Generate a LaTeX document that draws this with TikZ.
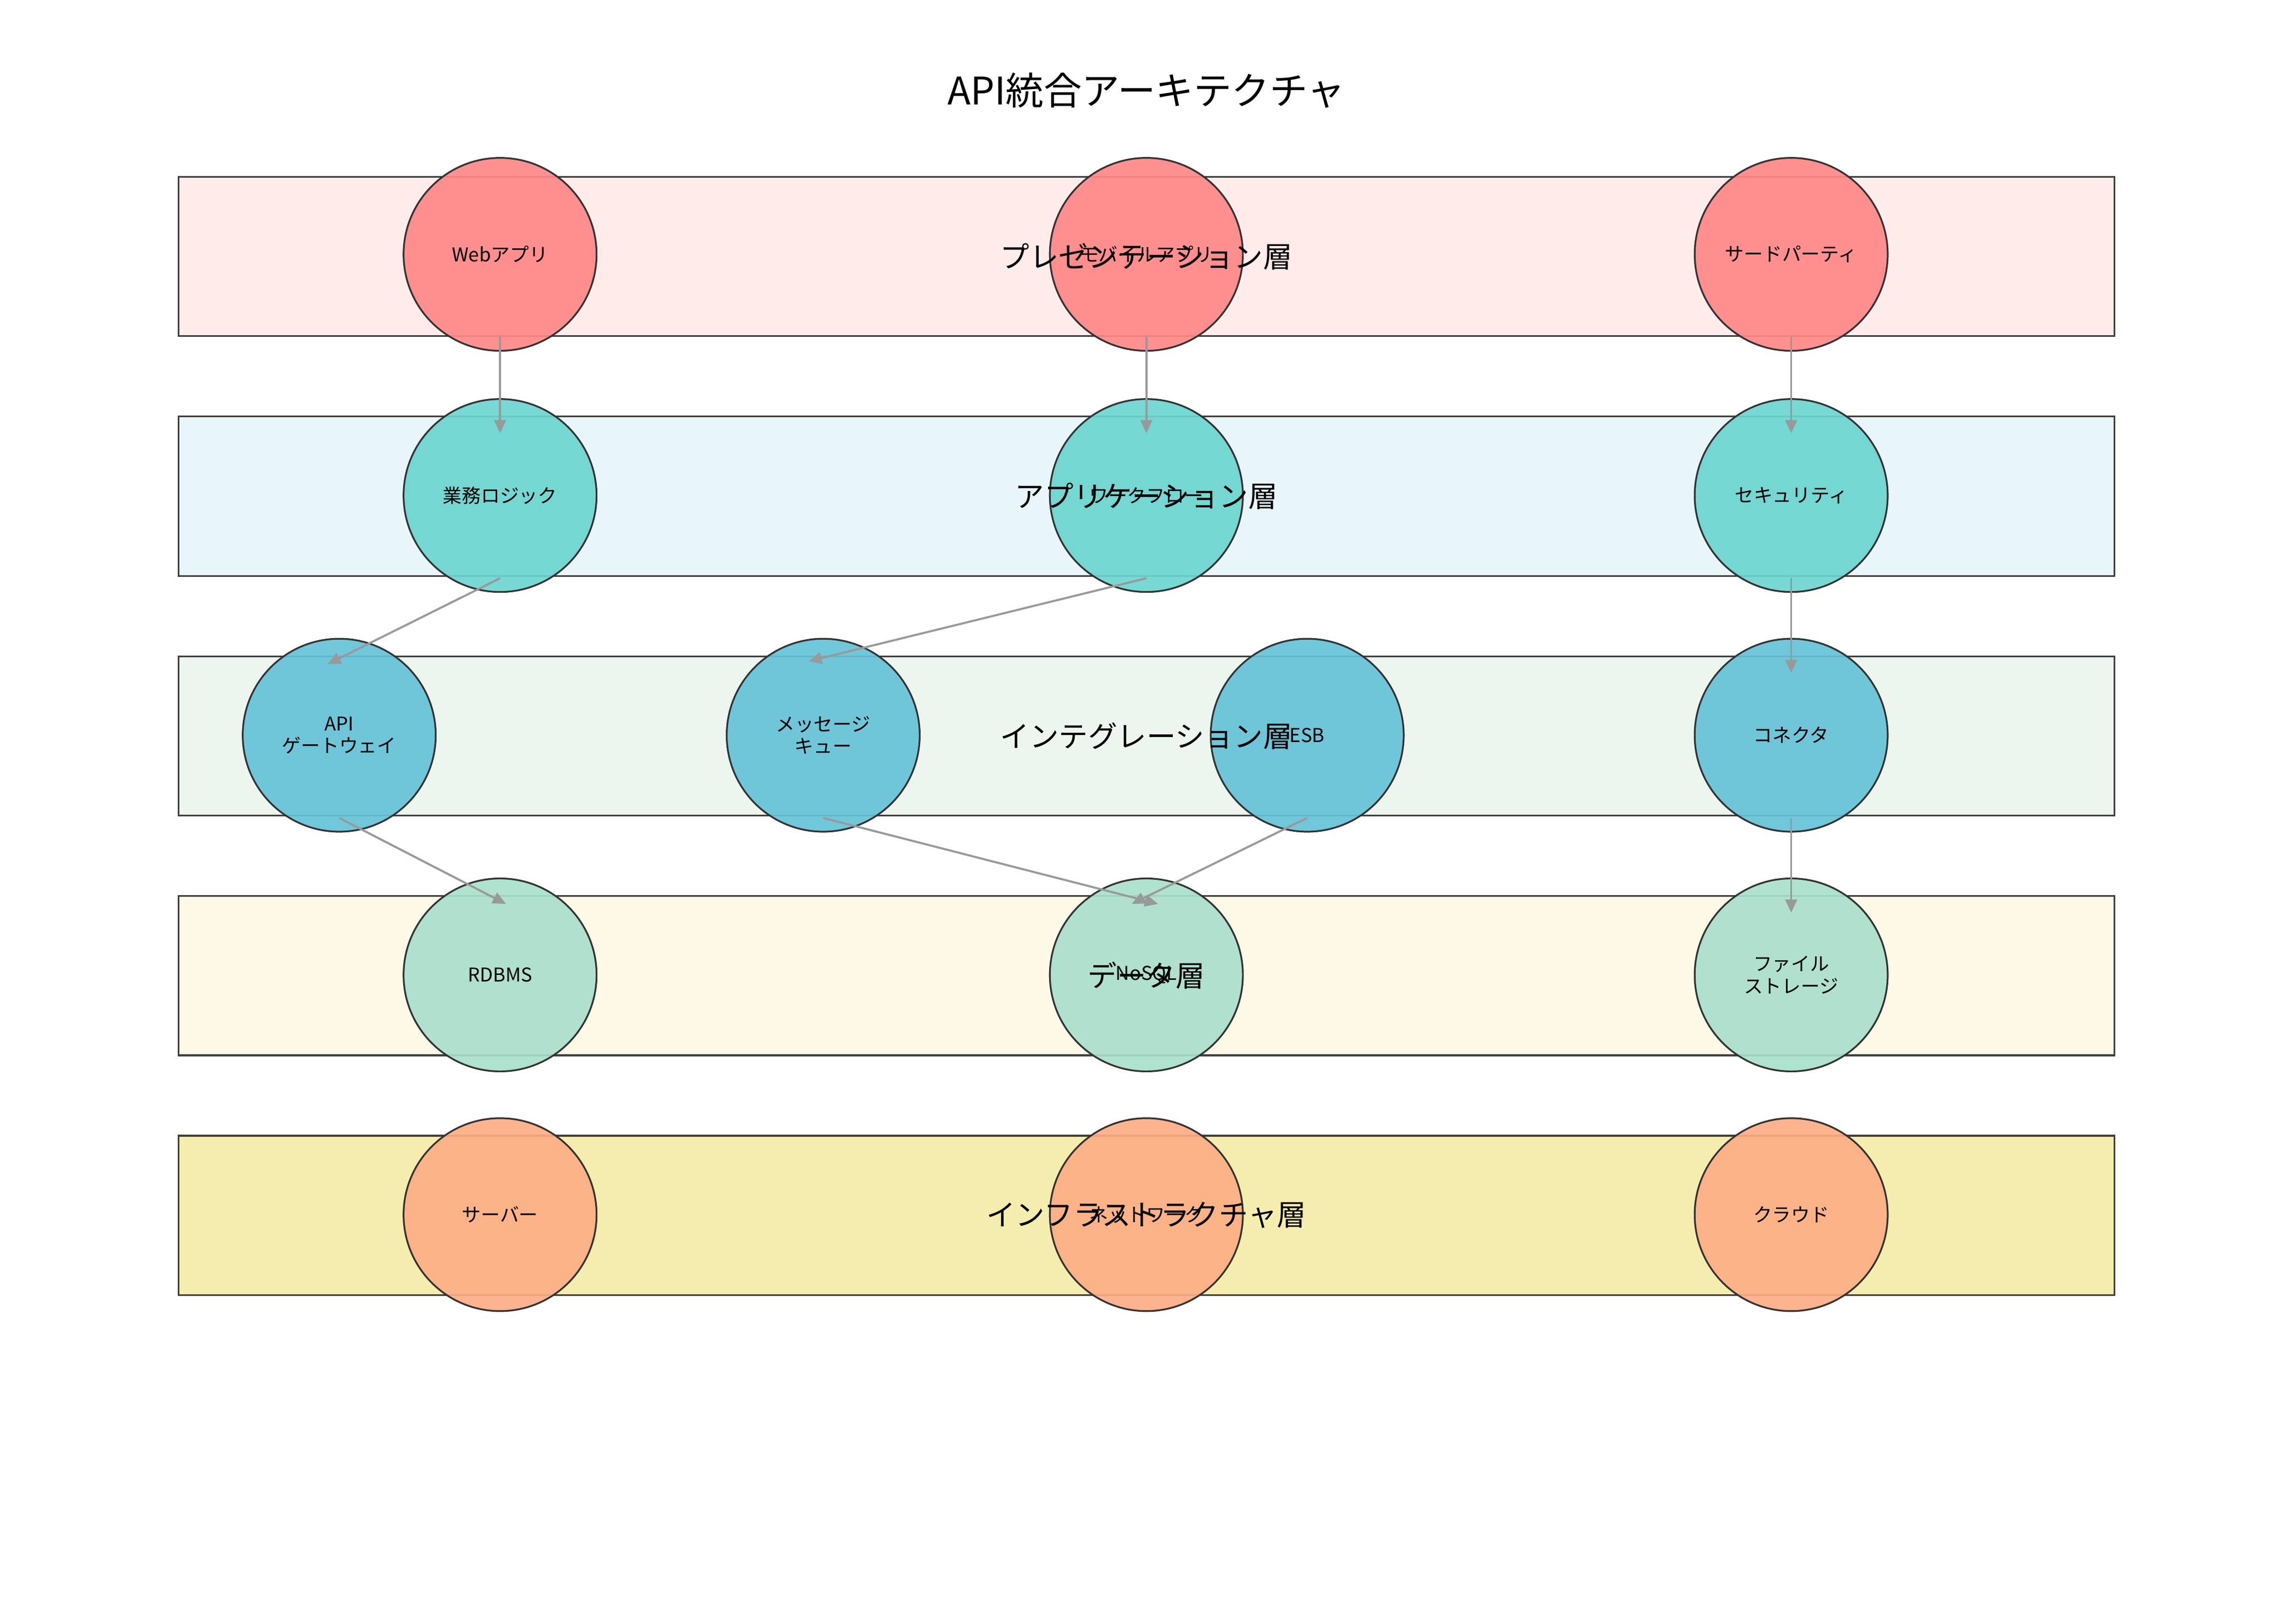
\documentclass[tikz,border=0pt]{standalone}
\usepackage{fontspec}
\setmainfont{Noto Sans CJK JP}
\usetikzlibrary{arrows.meta, positioning, calc}
\definecolor{layerred}{HTML}{FFEBE9}
\definecolor{layerblue}{HTML}{E8F6FC}
\definecolor{layergreen}{HTML}{EDF6EE}
\definecolor{layercream}{HTML}{FEF9E7}
\definecolor{layeryellow}{HTML}{F5EDAE}
\definecolor{nodered}{HTML}{FF8787}
\definecolor{nodeteal}{HTML}{6CD5CF}
\definecolor{nodecyan}{HTML}{65C2D7}
\definecolor{nodemint}{HTML}{A9DFCC}
\definecolor{nodeorange}{HTML}{FCAD84}
\definecolor{edgegray}{HTML}{999999}

\begin{document}
\begin{tikzpicture}[x=1pt, y=-1pt,
    layer/.style={draw=black!75, line width=1.2pt, minimum width=1324pt, minimum height=109pt, inner sep=0pt},
    layerlabel/.style={font=\fontsize{20}{22}\selectfont},
    comp/.style={circle, draw=black!80, line width=1.2pt, minimum size=132pt, inner sep=0pt, fill opacity=0.92, text opacity=1, align=center, font=\fontsize{13}{15}\selectfont},
    arrow/.style={-{Triangle[length=9pt, width=8pt]}, line width=1.4pt, edgegray}
]
\useasboundingbox (0,0) rectangle (1560,1111);

\node[font=\fontsize{26}{30}\selectfont] (title) at (784,62) {API統合アーキテクチャ};

% Layers
\node[layer, fill=layerred] (l1) at (784,175.5) {};
\node[layer, fill=layerblue] (l2) at (784,339.5) {};
\node[layer, fill=layergreen] (l3) at (784,503.5) {};
\node[layer, fill=layercream] (l4) at (784,667.5) {};
\node[layer, fill=layeryellow] (l5) at (784,831.5) {};

% Components
\node[comp, fill=nodered] (web) at (342,174) {Webアプリ};
\node[comp, fill=nodered] (mobile) at (784,174) {モバイルアプリ};
\node[comp, fill=nodered] (third) at (1225,174) {サードパーティ};

\node[comp, fill=nodeteal] (logic) at (342,339) {業務ロジック};
\node[comp, fill=nodeteal] (flow) at (784,339) {ワークフロー};
\node[comp, fill=nodeteal] (security) at (1225,339) {セキュリティ};

\node[comp, fill=nodecyan] (gateway) at (232,503) {API\\ゲートウェイ};
\node[comp, fill=nodecyan] (queue) at (563,503) {メッセージ\\キュー};
\node[comp, fill=nodecyan] (esb) at (894,503) {ESB};
\node[comp, fill=nodecyan] (connector) at (1225,503) {コネクタ};

\node[comp, fill=nodemint] (rdbms) at (342,667) {RDBMS};
\node[comp, fill=nodemint] (nosql) at (784,667) {NoSQL};
\node[comp, fill=nodemint] (storage) at (1225,667) {ファイル\\ストレージ};

\node[comp, fill=nodeorange] (server) at (342,831) {サーバー};
\node[comp, fill=nodeorange] (network) at (784,831) {ネットワーク};
\node[comp, fill=nodeorange] (cloud) at (1225,831) {クラウド};

% Layer labels
\node[layerlabel] at (l1) {プレゼンテーション層};
\node[layerlabel] at (l2) {アプリケーション層};
\node[layerlabel] at (l3) {インテグレーション層};
\node[layerlabel] at (l4) {データ層};
\node[layerlabel] at (l5) {インフラストラクチャ層};

% Connections
\draw[arrow] (web.south) ++(0,-10) -- ([yshift=-24pt]logic.north);
\draw[arrow] (mobile.south) ++(0,-10) -- ([yshift=-24pt]flow.north);
\draw[arrow] (third.south) ++(0,-10) -- ([yshift=-24pt]security.north);
\draw[arrow] (logic.south) ++(0,-10) -- ([xshift=-8pt, yshift=-18pt]gateway.north);
\draw[arrow] (flow.south) ++(0,-10) -- ([xshift=-10pt, yshift=-16pt]queue.north);
\draw[arrow] (security.south) ++(0,-10) -- ([yshift=-24pt]connector.north);
\draw[arrow] (gateway.south) ++(0,-10) -- ([xshift=4pt, yshift=-18pt]rdbms.north);
\draw[arrow] (queue.south) ++(0,-10) -- ([xshift=8pt, yshift=-18pt]nosql.north);
\draw[arrow] (esb.south) ++(0,-10) -- ([xshift=-10pt, yshift=-18pt]nosql.north);
\draw[arrow] (connector.south) ++(0,-10) -- ([yshift=-24pt]storage.north);
\end{tikzpicture}
\end{document}
